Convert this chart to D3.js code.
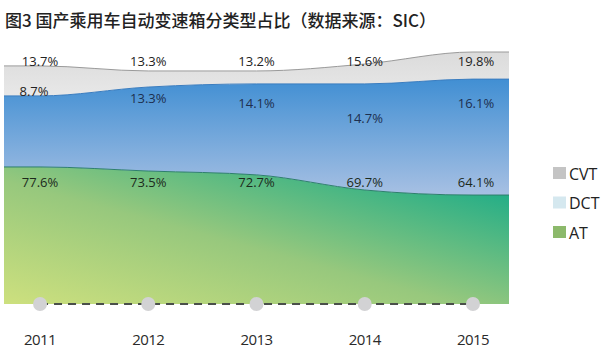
<!DOCTYPE html>
<html>
<head>
<meta charset="utf-8">
<script src="https://cdn.jsdelivr.net/npm/d3@7"></script>
<style>
  body { margin: 0; background: #fff; }
  text { font-family: "Open Sans", "Noto Sans", sans-serif; }
</style>
</head>
<body>
<div id="chart"></div>
<script>
      var years = ["2011", "2012", "2013", "2014", "2015"];

      // shares printed on the chart (%)
      var atPct  = [77.6, 73.5, 72.7, 69.7, 64.1];
      var dctPct = [8.7, 13.3, 14.1, 14.7, 16.1];
      var cvtPct = [13.7, 13.3, 13.2, 15.6, 19.8];

      // band thickness as drawn in the picture (the drawing is not to scale with the labels)
      var atBand  = [57.1, 55.4, 53.8, 47.5, 45.4];
      var dctBand = [29.6, 35.0, 37.9, 44.2, 48.3];
      var cvtBand = [12.5, 6.7, 5.4, 8.3, 11.3];

      var legendNames = ["CVT", "DCT", "AT"];

      var width = 602, height = 352;

      var svg = d3.select("#chart").append("svg")
                .attr("width", width)
                .attr("height", height);

      var defs = svg.append("defs");

      var gAT = defs.append("linearGradient").attr("id", "gradAT")
          .attr("x1", 0).attr("y1", 1).attr("x2", 1).attr("y2", 0);
      gAT.append("stop").attr("offset", "0%").attr("stop-color", "#cde07e");
      gAT.append("stop").attr("offset", "45%").attr("stop-color", "#97c87d");
      gAT.append("stop").attr("offset", "100%").attr("stop-color", "#0aa889");

      var gDCT = defs.append("linearGradient").attr("id", "gradDCT")
          .attr("x1", 0).attr("y1", 0).attr("x2", 0).attr("y2", 1);
      gDCT.append("stop").attr("offset", "0%").attr("stop-color", "#418fd3");
      gDCT.append("stop").attr("offset", "100%").attr("stop-color", "#a7c0e3");

      var gCVT = defs.append("linearGradient").attr("id", "gradCVT")
          .attr("x1", 0).attr("y1", 0).attr("x2", 0).attr("y2", 1);
      gCVT.append("stop").attr("offset", "0%").attr("stop-color", "#dbdbdb");
      gCVT.append("stop").attr("offset", "100%").attr("stop-color", "#e8e8e8");

      ////// Scales /////////////////
      var xScale = d3.scalePoint()
          .domain(years)
          .range([4, 509])
          .padding(0.333);

      var yScale = d3.scaleLinear()
          .domain([0, 100])
          .range([304, 64]);

      // rows for the stack, with the first/last year carried out to the plot edges
      var rows = years.map(function(y, i) {
          return {x: xScale(y), at: atBand[i], dct: dctBand[i], cvt: cvtBand[i]};
      });
      rows.unshift(Object.assign({}, rows[0], {x: xScale.range()[0]}));
      rows.push(Object.assign({}, rows[rows.length - 1], {x: xScale.range()[1]}));

      var series = d3.stack().keys(["at", "dct", "cvt"])(rows);

      var fills = {at: "url(#gradAT)", dct: "url(#gradDCT)", cvt: "url(#gradCVT)"};
      var edges = {at: "#2d7f6c", dct: "#3b7dbf", cvt: "#9a9a9a"};

      var area = d3.area()
          .curve(d3.curveMonotoneX)
          .x(function(d) { return d.data.x; })
          .y0(function(d) { return yScale(d[0]); })
          .y1(function(d) { return yScale(d[1]); });

      var topLine = d3.line()
          .curve(d3.curveMonotoneX)
          .x(function(d) { return d.data.x; })
          .y(function(d) { return yScale(d[1]); });

      svg.append("g").selectAll("path")
          .data(series)
          .enter()
          .append("path")
          .attr("d", area)
          .attr("fill", function(d) { return fills[d.key]; });

      svg.append("g").selectAll("path")
          .data(series)
          .enter()
          .append("path")
          .attr("d", topLine)
          .attr("fill", "none")
          .attr("stroke", function(d) { return edges[d.key]; })
          .attr("stroke-width", 1);

      // value labels
      var dctLabelY = [96, 103, 108, 123, 108];

      var labels = svg.append("g").attr("font-size", 13);
      labels.selectAll(".cvtlab")
          .data(cvtPct)
          .enter()
          .append("text")
          .attr("x", function(d, i) { return xScale(years[i]) + (i == 4 ? 3 : 0); })
          .attr("y", 66)
          .attr("text-anchor", "middle")
          .attr("fill", "#222")
          .text(function(d) { return d.toFixed(1) + "%"; });

      labels.selectAll(".dctlab")
          .data(dctPct)
          .enter()
          .append("text")
          .attr("x", function(d, i) { return xScale(years[i]) + (i == 0 ? -6 : (i == 4 ? 3 : 0)); })
          .attr("y", function(d, i) { return dctLabelY[i]; })
          .attr("text-anchor", "middle")
          .attr("fill", function(d, i) { return i == 0 ? "#222" : "#1d2f4f"; })
          .text(function(d) { return d.toFixed(1) + "%"; });

      labels.selectAll(".atlab")
          .data(atPct)
          .enter()
          .append("text")
          .attr("x", function(d, i) { return xScale(years[i]) + (i == 4 ? 3 : 0); })
          .attr("y", 187)
          .attr("text-anchor", "middle")
          .attr("fill", "#1c2a1c")
          .text(function(d) { return d.toFixed(1) + "%"; });

      // dashed baseline with year dots
      svg.append("line")
          .attr("x1", xScale(years[0]))
          .attr("x2", xScale(years[years.length - 1]))
          .attr("y1", 304)
          .attr("y2", 304)
          .attr("stroke", "#4a4f4a")
          .attr("stroke-width", 2)
          .attr("stroke-dasharray", "8,6");

      svg.append("g").selectAll("circle")
          .data(years)
          .enter()
          .append("circle")
          .attr("cx", function(d) { return xScale(d); })
          .attr("cy", 304)
          .attr("r", 7)
          .attr("fill", "#d2d2d4");

      svg.append("g").selectAll("text")
          .data(years)
          .enter()
          .append("text")
          .attr("x", function(d) { return xScale(d); })
          .attr("y", 345)
          .attr("text-anchor", "middle")
          .attr("font-size", 15)
          .attr("letter-spacing", "-0.6px")
          .attr("fill", "#2a2a2a")
          .text(function(d) { return d; });

      // legend
      var legendColors = ["#c4c4c4", "#d5e8ef", "#8cb96b"];
      var legend = svg.append("g").selectAll("g")
          .data(legendNames)
          .enter()
          .append("g")
          .attr("transform", function(d, i) { return "translate(553," + (167 + i * 29.5) + ")"; });
      legend.append("rect")
          .attr("width", 13)
          .attr("height", 12)
          .attr("fill", function(d, i) { return legendColors[i]; });
      legend.append("text")
          .attr("x", 16)
          .attr("y", 12.5)
          .attr("font-size", 16)
          .attr("fill", "#222")
          .text(function(d) { return d; });

      // title
      svg.append("text")
          .attr("x", 5)
          .attr("y", 27)
          .attr("font-size", 17)
          .attr("font-weight", 500)
          .attr("fill", "#222")
          .style("font-family", "'Noto Sans CJK SC', sans-serif")
          .text("图3 国产乘用车自动变速箱分类型占比（数据来源：SIC）");
</script>
</body>
</html>
